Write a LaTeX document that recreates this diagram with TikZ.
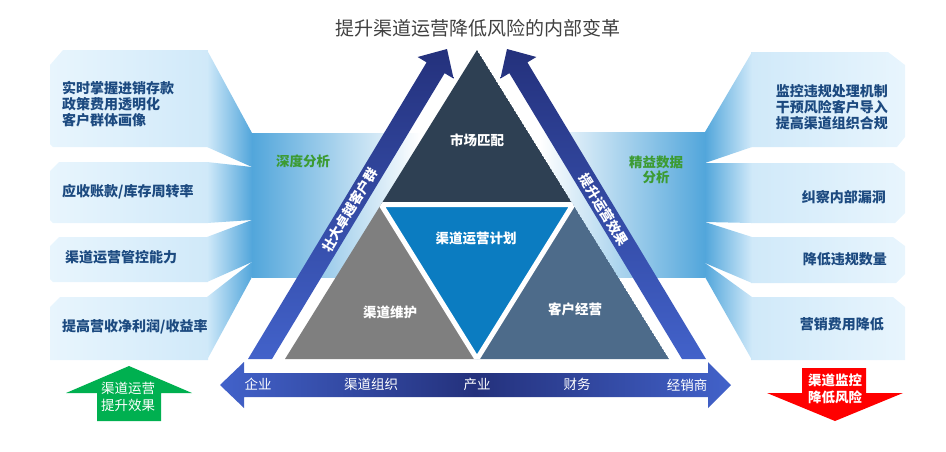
\documentclass[tikz,border=0pt]{standalone}
\usepackage{fontspec}
\setmainfont{Noto Sans CJK SC}
\usetikzlibrary{calc}
\definecolor{boxlight}{HTML}{E8F5FD}
\definecolor{boxmid}{HTML}{D0E9F9}
\definecolor{banddeep}{HTML}{52A6DB}
\definecolor{textblue}{HTML}{1C4A80}
\definecolor{labelgreen}{HTML}{3C9B32}
\definecolor{topdark}{HTML}{2E4053}
\definecolor{midblue}{HTML}{0B7CC1}
\definecolor{leftgray}{HTML}{7F7F7F}
\definecolor{rightslate}{HTML}{4D6B8A}
\definecolor{arrowlight}{HTML}{4262CA}
\definecolor{arrowdark}{HTML}{24317C}
\definecolor{upgreen}{HTML}{00B050}
\definecolor{downred}{HTML}{FF0000}
\tikzset{
  boxtext/.style={text=textblue, font=\fontsize{14}{16}\selectfont\bfseries, inner sep=0pt},
  bandlabel/.style={text=labelgreen, font=\fontsize{13.5}{15.5}\selectfont\bfseries, align=center, inner sep=0pt},
  trilabel/.style={text=white, font=\fontsize{13.5}{16}\selectfont\bfseries, inner sep=0pt},
  sidelabel/.style={text=white, font=\fontsize{13.5}{16}\selectfont\bfseries, inner sep=0pt},
  axislabel/.style={text=white, font=\fontsize{13.5}{16}\selectfont, inner sep=0pt},
  tiplabel/.style={text=white, font=\fontsize{13.5}{17}\selectfont, align=center, inner sep=0pt}
}
\begin{document}
\begin{tikzpicture}[x=1pt,y=-1pt]
    \useasboundingbox (0,0) rectangle (946,451);
    \node[font=\fontsize{19}{22}\selectfont, text=black!75, inner sep=0pt] (title) at (478,28) {提升渠道运营降低风险的内部变革};

    \shade[left color=banddeep, right color=white] (252,133) rectangle (420,277);
    \shade[left color=white, right color=banddeep] (540,132) rectangle (705,277);

    \shade[left color=boxlight, right color=boxmid] (50,65) -- (63,50) -- (208,50) -- (208,147) -- (53,147) -- (50,144) -- cycle;
    \shade[left color=boxmid, right color=banddeep] (207,50) -- (252,133) -- (252,167) -- (207,147) -- cycle;
    \shade[left color=boxlight, right color=boxmid] (50,171) -- (59,162) -- (208,162) -- (208,223) -- (53,223) -- (50,220) -- cycle;
    \shade[left color=boxmid, right color=banddeep] (207,162) -- (252,167) -- (252,220) -- (207,223) -- cycle;
    \shade[left color=boxlight, right color=boxmid] (50,246) -- (59,237) -- (208,237) -- (208,282) -- (53,282) -- (50,279) -- cycle;
    \shade[left color=boxmid, right color=banddeep] (207,237) -- (252,220) -- (252,262) -- (207,282) -- cycle;
    \shade[left color=boxlight, right color=boxmid] (50,307) -- (60,297) -- (208,297) -- (208,360) -- (50,360) -- cycle;
    \shade[left color=boxmid, right color=banddeep] (207,297) -- (252,262) -- (252,277) -- (207,360) -- cycle;

    \shade[left color=boxmid, right color=boxlight] (751,52) -- (888,52) -- (905,65) -- (905,137) -- (897,147) -- (751,147) -- cycle;
    \shade[left color=banddeep, right color=boxmid] (752,52) -- (705,132) -- (705,163) -- (752,147) -- cycle;
    \shade[left color=boxmid, right color=boxlight] (751,163) -- (893,163) -- (905,172) -- (905,213) -- (895,223) -- (751,223) -- cycle;
    \shade[left color=banddeep, right color=boxmid] (752,163) -- (705,163) -- (705,222) -- (752,223) -- cycle;
    \shade[left color=boxmid, right color=boxlight] (751,237) -- (893,237) -- (905,246) -- (905,274) -- (896,283) -- (751,283) -- cycle;
    \shade[left color=banddeep, right color=boxmid] (752,237) -- (705,222) -- (705,263) -- (752,283) -- cycle;
    \shade[left color=boxmid, right color=boxlight] (751,297) -- (893,297) -- (905,307) -- (905,360) -- (751,360) -- cycle;
    \shade[left color=banddeep, right color=boxmid] (752,297) -- (705,263) -- (705,277) -- (752,360) -- cycle;

    \coordinate (A) at (477,50);
    \coordinate (B) at (285,359);
    \coordinate (C) at (669,359);
    \coordinate (AB) at ($(A)!0.5!(B)$);
    \coordinate (AC) at ($(A)!0.5!(C)$);
    \coordinate (BC) at ($(B)!0.5!(C)$);
    \begin{scope}
        \clip (A) -- (B) -- (C) -- cycle;
        \fill[topdark] (A) -- (AB) -- (AC) -- cycle;
        \fill[leftgray] (AB) -- (B) -- (BC) -- cycle;
        \fill[rightslate] (AC) -- (BC) -- (C) -- cycle;
        \fill[midblue] (AB) -- (AC) -- (BC) -- cycle;
        \draw[white, line width=5pt] (AB) -- (AC) -- (BC) -- cycle;
    \end{scope}

    \shade[top color=arrowdark, bottom color=arrowlight] (248,359) -- (426.6,62.4) -- (417.6,57) -- (447,49) -- (453.6,78.6) -- (444.6,73.2) -- (272,359) -- cycle;
    \shade[top color=arrowdark, bottom color=arrowlight] (706,359) -- (527.4,62.4) -- (536.4,57) -- (507,49) -- (500.4,78.6) -- (509.4,73.2) -- (682,359) -- cycle;
    \shade[left color=arrowlight, right color=arrowlight, middle color=arrowdark] (220,385) -- (244,362) -- (244,373) -- (708,373) -- (708,362) -- (731,385) -- (708,408) -- (708,397) -- (244,397) -- (244,408) -- cycle;

    \fill[upgreen] (129,366) -- (192,393) -- (161,393) -- (161,421) -- (97,421) -- (97,393) -- (66,393) -- cycle;
    \fill[downred] (802,368) -- (866,368) -- (866,393) -- (903,393) -- (835,421) -- (767,393) -- (802,393) -- cycle;

    \node[boxtext, anchor=west, align=left] (stock) at (62,104.5) {实时掌握进销存款\\政策费用透明化\\客户群体画像};
    \node[boxtext, anchor=west] (turnover) at (62,192) {应收账款/库存周转率};
    \node[boxtext, anchor=west] (control) at (65,257) {渠道运营管控能力};
    \node[boxtext, anchor=west] (margin) at (62,327) {提高营收净利润/收益率};

    \node[boxtext, anchor=east, align=right] (monitor) at (888,107) {监控违规处理机制\\干预风险客户导入\\提高渠道组织合规};
    \node[boxtext, anchor=east] (leak) at (886,197) {纠察内部漏洞};
    \node[boxtext, anchor=east] (breach) at (887,259) {降低违规数量};
    \node[boxtext, anchor=east] (cost) at (884,324) {营销费用降低};

    \node[bandlabel] (deep) at (303,161) {深度分析};
    \node[bandlabel] (lean) at (656,170) {精益数据\\分析};

    \node[trilabel] (market) at (477,140) {市场匹配};
    \node[trilabel] (plan) at (476,238) {渠道运营计划};
    \node[trilabel] (upkeep) at (390,312) {渠道维护};
    \node[trilabel] (client) at (575,309) {客户经营};

    \node[sidelabel, rotate=58.9] (grow) at (350,210) {壮大卓越客户群};
    \node[sidelabel, rotate=-58.9] (boost) at (604,210) {提升运营效果};

    \node[axislabel] (firm) at (258,384) {企业};
    \node[axislabel] (org) at (371,384) {渠道组织};
    \node[axislabel] (industry) at (477,384) {产业};
    \node[axislabel] (finance) at (577,384) {财务};
    \node[axislabel] (dealer) at (687,385) {经销商};

    \node[tiplabel] (gain) at (128,397) {渠道运营\\提升效果};
    \node[tiplabel, font=\fontsize{13.5}{17}\selectfont\bfseries] (risk) at (835,389) {渠道监控\\降低风险};
\end{tikzpicture}
\end{document}
